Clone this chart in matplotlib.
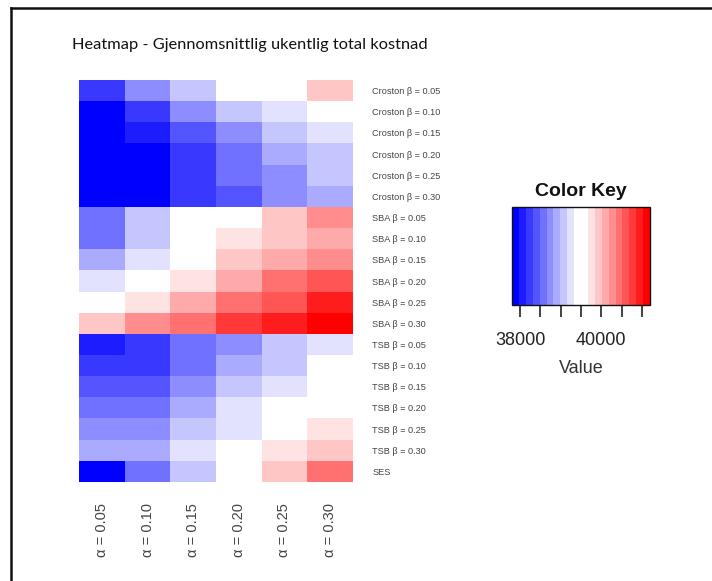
import numpy as np
import matplotlib
matplotlib.use("Agg")
import matplotlib.pyplot as plt
from matplotlib.colors import ListedColormap, BoundaryNorm
from matplotlib.lines import Line2D

# rows (top to bottom) and columns of the heatmap
row_labels = ["Croston \u03b2 = 0.05", "Croston \u03b2 = 0.10", "Croston \u03b2 = 0.15",
              "Croston \u03b2 = 0.20", "Croston \u03b2 = 0.25", "Croston \u03b2 = 0.30",
              "SBA \u03b2 = 0.05", "SBA \u03b2 = 0.10", "SBA \u03b2 = 0.15",
              "SBA \u03b2 = 0.20", "SBA \u03b2 = 0.25", "SBA \u03b2 = 0.30",
              "TSB \u03b2 = 0.05", "TSB \u03b2 = 0.10", "TSB \u03b2 = 0.15",
              "TSB \u03b2 = 0.20", "TSB \u03b2 = 0.25", "TSB \u03b2 = 0.30", "SES"]
col_labels = ["\u03b1 = 0.05", "\u03b1 = 0.10", "\u03b1 = 0.15",
              "\u03b1 = 0.20", "\u03b1 = 0.25", "\u03b1 = 0.30"]

# average weekly total cost, estimated from the colours
croston = [[38210, 38720, 39050, 39430, 39560, 39900],
           [37810, 38240, 38750, 39090, 39260, 39440],
           [37850, 38070, 38410, 38700, 39060, 39230],
           [37830, 37900, 38200, 38580, 38880, 39100],
           [37840, 37920, 38230, 38550, 38760, 39050],
           [37860, 37940, 38250, 38400, 38740, 38920]]
sba = [[38570, 39080, 39420, 39460, 39930, 40280],
       [38590, 39100, 39450, 39760, 39950, 40100],
       [38900, 39250, 39480, 39920, 40080, 40250],
       [39280, 39600, 39740, 40120, 40440, 40600],
       [39570, 39780, 40110, 40460, 40620, 40950],
       [39940, 40270, 40420, 40800, 40960, 41190]]
tsb = [[38060, 38210, 38570, 38730, 39080, 39240],
       [38220, 38240, 38590, 38890, 39070, 39410],
       [38380, 38400, 38720, 39060, 39250, 39430],
       [38560, 38580, 38880, 39260, 39470, 39590],
       [38730, 38750, 39080, 39270, 39490, 39760],
       [38890, 38910, 39240, 39440, 39770, 39910]]
ses = [[37805, 38560, 39060, 39480, 39920, 40430]]

key_ticks = [38000, 38500, 39000, 39500, 40000, 40500, 41000]
key_labels = ["38000", "", "", "", "40000", "", ""]
vmin, vmax = 37800, 41200

data = np.array(croston + sba + tsb + ses)

# bluered(20) like gplots: blue->white in 10 steps, white->red in 10 steps
n = 20
half = np.linspace(0, 1, n // 2)
cols = [(h, h, 1.0) for h in half] + [(1.0, 1 - h, 1 - h) for h in half]
cmap = ListedColormap(cols)
norm = BoundaryNorm(np.linspace(vmin, vmax, n + 1), n)

W, H = 712, 581
fig = plt.figure(figsize=(W / 100, H / 100), dpi=100)
plt.rcParams['font.family'] = ['Liberation Sans', 'DejaVu Sans']

def box(x0, y0, x1, y1):
    return [x0 / W, 1 - y1 / H, (x1 - x0) / W, (y1 - y0) / H]

# frame
fig.add_artist(Line2D([11 / W, 1], [1 - 8 / H, 1 - 8 / H], color='#111111', lw=1.8))
fig.add_artist(Line2D([11 / W, 11 / W], [0, 1 - 8 / H], color='#111111', lw=1.8))

fig.text(72 / W, 1 - 45 / H, "Heatmap - Gjennomsnittlig ukentlig total kostnad",
         family=['Lato', 'DejaVu Sans'], fontsize=11.8, va='center', ha='left', color='#111111')

ax = fig.add_axes(box(79, 80, 353, 482))
ax.imshow(data, cmap=cmap, norm=norm, aspect='auto', interpolation='nearest')
for s in ax.spines.values():
    s.set_visible(False)
ax.yaxis.tick_right()
ax.set_yticks(range(len(row_labels)))
ax.set_yticklabels(row_labels, fontsize=6.6, color='#444444')
ax.set_xticks(range(len(col_labels)))
ax.set_xticklabels(col_labels, rotation=90, fontsize=10.5, color='#444444')
ax.tick_params(axis='y', length=0, pad=14)
ax.tick_params(axis='x', length=0, pad=15)

# colour key
cax = fig.add_axes(box(512, 207, 650, 305))
sm = plt.cm.ScalarMappable(cmap=cmap, norm=norm)
cb = fig.colorbar(sm, cax=cax, orientation='horizontal')
cb.minorticks_off()
cb.outline.set_edgecolor('#111111')
cb.outline.set_linewidth(1.0)
cb.set_ticks(key_ticks)
cb.set_ticklabels(key_labels)
cax.tick_params(axis='x', which='minor', length=0)
cax.tick_params(axis='x', direction='out', length=8.5, width=1.3, color='#333333',
                labelsize=13, labelcolor='#222222', pad=11)
cax.set_xlabel("Value", fontsize=13, color='#333333', labelpad=8)
cax.set_title("Color Key", fontsize=14, fontweight='bold', color='#111111', pad=8)

fig.savefig("out.png", dpi=100)
